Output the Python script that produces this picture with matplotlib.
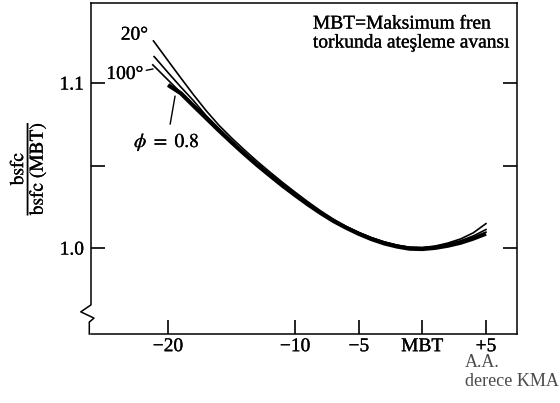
import matplotlib
matplotlib.use('Agg')
import matplotlib.pyplot as plt
import matplotlib.patheffects as pe

plt.rcParams['font.family'] = ['Liberation Serif', 'DejaVu Serif']
plt.rcParams['mathtext.fontset'] = 'stix'

# spark advance relative to MBT (deg) and normalised bsfc for each curve
adv_20 = [-21.15, -21, -20, -19, -18, -17, -16, -15, -14, -13, -12, -11, -10,
          -9, -8, -7, -6, -5, -4, -3, -2, -1, 0, 1, 2, 3, 4, 5]
bsfc_20 = [1.1255, 1.1240, 1.1135, 1.1031, 1.0929, 1.0832, 1.0744, 1.0667,
           1.0595, 1.0526, 1.0461, 1.0398, 1.0338, 1.0280, 1.0225, 1.0175,
           1.0131, 1.0094, 1.0062, 1.0037, 1.0018, 1.0005, 1.0003, 1.0012,
           1.0030, 1.0055, 1.0092, 1.0148]

adv_mid = [-21.1, -21, -20, -19, -18, -17, -16, -15, -14, -13, -12, -11, -10,
           -9, -8, -7, -6, -5, -4, -3, -2, -1, 0, 1, 2, 3, 4, 5]
bsfc_mid = [1.1160, 1.1152, 1.1063, 1.0976, 1.0893, 1.0802, 1.0725, 1.0651,
            1.0580, 1.0513, 1.0449, 1.0387, 1.0328, 1.0272, 1.0219, 1.0171,
            1.0130, 1.0094, 1.0063, 1.0037, 1.0017, 1.0004, 1.0002, 1.0009,
            1.0024, 1.0044, 1.0073, 1.0112]

adv_100 = [-21.2, -21, -20, -19, -18, -17, -16, -15, -14, -13, -12, -11, -10,
           -9, -8, -7, -6, -5, -4, -3, -2, -1, 0, 1, 2, 3, 4, 5]
bsfc_100 = [1.1110, 1.1095, 1.1018, 1.0942, 1.0866, 1.0791, 1.0716, 1.0644,
            1.0574, 1.0507, 1.0444, 1.0382, 1.0324, 1.0268, 1.0216, 1.0168,
            1.0127, 1.0090, 1.0058, 1.0032, 1.0012, 0.9999, 0.9997, 1.0004,
            1.0018, 1.0036, 1.0062, 1.0096]

adv_phi = [-20, -19.5, -19, -18, -17, -16, -15, -14, -13, -12, -11, -10, -9,
           -8, -7, -6, -5, -4, -3, -2, -1, 0, 1, 2, 3, 4, 5]
bsfc_phi = [1.0988, 1.0963, 1.0938, 1.0862, 1.0787, 1.0712, 1.0640, 1.0570,
            1.0503, 1.0440, 1.0378, 1.0320, 1.0264, 1.0212, 1.0164, 1.0123,
            1.0086, 1.0054, 1.0028, 1.0009, 0.9996, 0.9994, 1.0001, 1.0014,
            1.0032, 1.0057, 1.0087]

xticks = [-20, -10, -5, 0, 5]
xtick_labels = ['\u221220', '\u221210', '\u22125', 'MBT', '+5']
yticks = [1.0, 1.05, 1.1]
ytick_labels = ['1.0', '', '1.1']

# thin outline so the serif type prints a touch heavier
heavy = [pe.withStroke(linewidth=0.2, foreground='black')]

fig = plt.figure(figsize=(5.6, 4.03), dpi=100)
ax = fig.add_axes([0.1625, 0.1712, 0.7607, 0.8214])

ax.plot(adv_phi, bsfc_phi, color='black', lw=3.0, solid_capstyle='butt',
        solid_joinstyle='round')
for xs, ys in [(adv_100, bsfc_100), (adv_mid, bsfc_mid), (adv_20, bsfc_20)]:
    ax.plot(xs, ys, color='black', lw=1.2, solid_joinstyle='round')

ax.set_xlim(-26.06, 7.44)
ax.set_ylim(0.9479, 1.1485)

ax.set_xticks(xticks)
ax.set_xticklabels(xtick_labels)
ax.set_yticks(yticks)
ax.set_yticklabels(ytick_labels)
ax.tick_params(axis='both', direction='in', length=10, width=1.2,
               labelsize=14, pad=3)
ax.tick_params(axis='y', right=True, pad=5)
for lbl in ax.get_xticklabels() + ax.get_yticklabels():
    lbl.set_path_effects(heavy)

for side in ['top', 'right', 'bottom']:
    ax.spines[side].set_linewidth(1.1)
ax.spines['left'].set_visible(False)

# left axis drawn by hand so it carries the break near the bottom
brk_x = [0.0, 0.0, -0.024, 0.007, -0.004, -0.004]
brk_y = [1.0, 0.088, 0.067, 0.048, 0.036, 0.0]
ax.plot(brk_x, brk_y, color='black', lw=1.1, transform=ax.transAxes,
        clip_on=False)

ax.text(-22.64, 1.129, '20\u00b0', fontsize=14, ha='center', va='center',
        path_effects=heavy)
ax.annotate('100\u00b0', xy=(-21.18, 1.1085), xytext=(-23.39, 1.1052),
            fontsize=14, ha='center', va='center', path_effects=heavy,
            arrowprops=dict(arrowstyle='-', lw=1.0, shrinkA=0, shrinkB=0))
ax.annotate(r'$\phi\ =\ 0.8$', xy=(-19.45, 1.0921), xytext=(-20.08, 1.0642),
            fontsize=14, ha='center', va='center', path_effects=heavy,
            arrowprops=dict(arrowstyle='-', lw=1.0, shrinkA=3, shrinkB=0))

ax.text(0.521, 0.962, 'MBT=Maksimum fren\ntorkunda ate\u015fleme avans\u0131',
        transform=ax.transAxes, fontsize=14, ha='left', va='top',
        linespacing=1.15, path_effects=heavy)

fig.text(0.830, 0.121, 'A.A.\nderece KMA', fontsize=13, color='#4a4a4a',
         ha='left', va='top', linespacing=1.15)

fig.text(0.05, 0.583, r'$\dfrac{\mathrm{bsfc}}{\mathrm{bsfc\ (MBT)}}$',
         rotation=90, fontsize=14, ha='center', va='center',
         path_effects=heavy)

fig.savefig('out.png', dpi=100)
